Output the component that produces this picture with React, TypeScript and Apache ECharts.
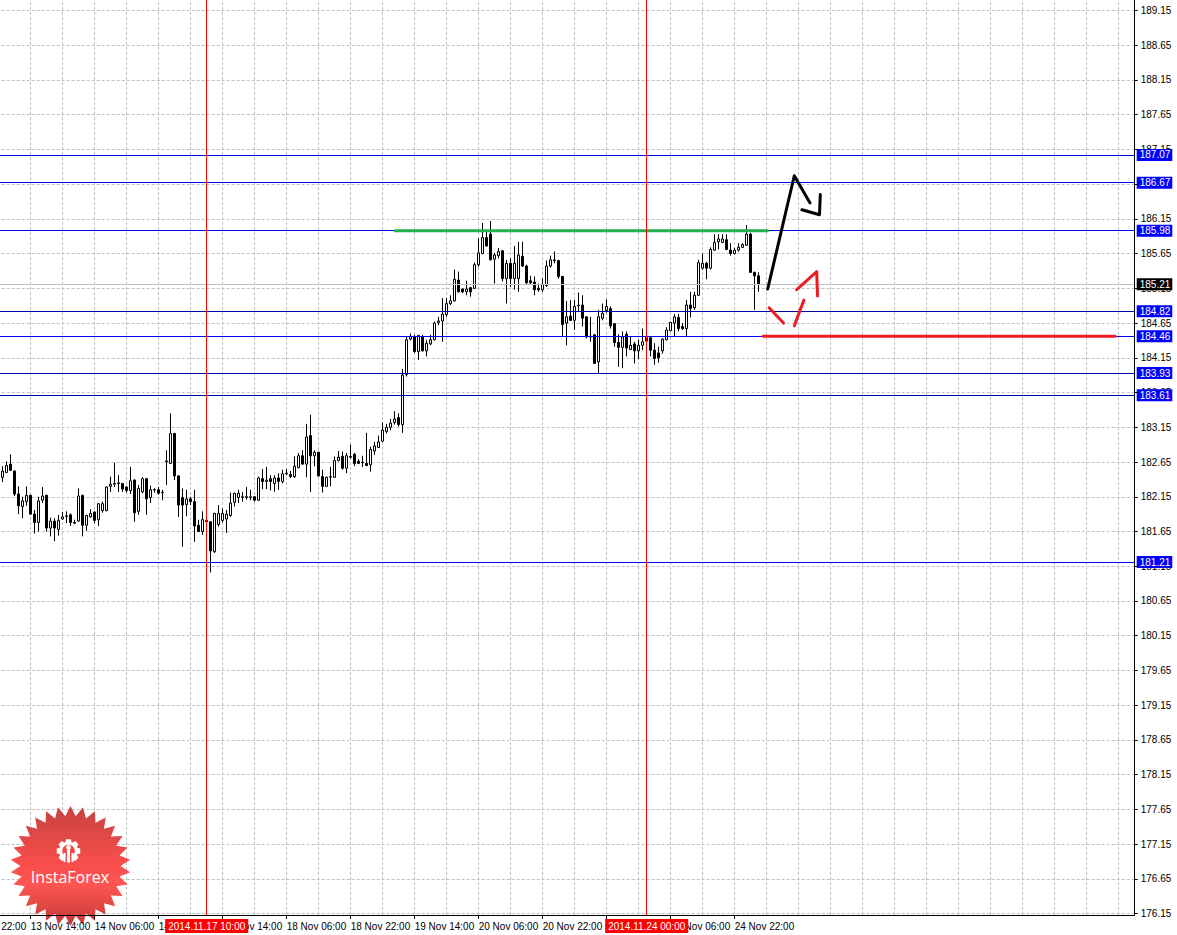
import React, { useEffect, useRef } from "react";
import * as echarts from "echarts";

// ---------- DATA ----------
// Hourly GBP/JPY candles, 13 Nov 2014 07:00 .. 25 Nov 2014 04:00  [open, high, low, close]
const CANDLES: number[][] = [
  [182.43, 182.59, 182.36, 182.52], [182.50, 182.66, 182.49, 182.60], [182.62, 182.76, 182.52, 182.53],
  [182.52, 182.53, 182.16, 182.19], [182.19, 182.30, 181.90, 182.02], [182.01, 182.15, 181.84, 182.09],
  [182.08, 182.30, 182.02, 182.17], [182.17, 182.18, 181.89, 181.90], [181.90, 181.96, 181.62, 181.78],
  [181.78, 182.15, 181.65, 182.09], [182.10, 182.29, 182.06, 182.16], [182.17, 182.18, 181.65, 181.70],
  [181.70, 181.85, 181.58, 181.80], [181.80, 181.84, 181.51, 181.70], [181.68, 181.89, 181.59, 181.81],
  [181.83, 181.93, 181.82, 181.86], [181.865, 181.94, 181.77, 181.875], [181.89, 181.91, 181.73, 181.78],
  [181.78, 181.82, 181.76, 181.77], [181.80, 182.27, 181.79, 182.16], [182.17, 182.18, 181.58, 181.74],
  [181.74, 181.89, 181.66, 181.88], [181.86, 181.97, 181.85, 181.91], [181.93, 181.94, 181.77, 181.81],
  [181.82, 182.06, 181.73, 182.05], [181.95, 182.08, 181.92, 182.05], [181.95, 182.30, 181.94, 182.29],
  [182.30, 182.44, 182.22, 182.33], [182.33, 182.64, 182.29, 182.34], [182.34, 182.46, 182.22, 182.35],
  [182.34, 182.35, 182.22, 182.26], [182.29, 182.30, 182.21, 182.24], [182.24, 182.58, 182.19, 182.38],
  [182.39, 182.40, 181.79, 181.92], [181.94, 182.32, 181.89, 182.27], [182.22, 182.43, 182.20, 182.41],
  [182.41, 182.42, 181.89, 182.12], [182.14, 182.31, 182.06, 182.25], [182.25, 182.27, 182.21, 182.255],
  [182.25, 182.29, 182.18, 182.20], [182.21, 182.25, 182.10, 182.215],
  // 17 Nov
  [182.655, 182.82, 182.32, 182.665], [182.63, 183.35, 182.62, 183.06], [183.06, 183.07, 182.39, 182.45],
  [182.45, 182.46, 181.86, 182.03], [182.14, 182.27, 181.43, 182.03], [182.04, 182.25, 181.87, 182.12],
  [182.12, 182.15, 182.03, 182.08], [182.08, 182.25, 181.50, 181.73], [181.74, 181.82, 181.64, 181.65],
  [181.65, 181.94, 181.60, 181.82], [181.81, 181.82, 181.78, 181.79], [181.79, 181.80, 181.06, 181.37],
  [181.36, 181.92, 181.34, 181.91], [181.75, 182.03, 181.72, 181.91], [181.81, 181.98, 181.78, 181.91],
  [181.83, 181.96, 181.63, 181.90], [181.88, 182.21, 181.86, 182.06], [182.07, 182.21, 182.01, 182.20],
  [182.14, 182.25, 182.06, 182.20], [182.14, 182.22, 182.08, 182.15], [182.15, 182.29, 182.11, 182.14],
  [182.14, 182.25, 182.10, 182.15], [182.15, 182.16, 182.08, 182.10], [182.10, 182.44, 182.09, 182.42],
  [182.41, 182.55, 182.26, 182.37], [182.37, 182.58, 182.26, 182.39], [182.41, 182.46, 182.24, 182.37],
  [182.34, 182.46, 182.22, 182.42], [182.42, 182.49, 182.25, 182.37], [182.37, 182.54, 182.34, 182.48],
  [182.48, 182.55, 182.46, 182.49], [182.47, 182.52, 182.42, 182.44], [182.44, 182.73, 182.42, 182.59],
  [182.57, 182.78, 182.56, 182.74], [182.74, 182.82, 182.61, 182.62], [182.62, 183.20, 182.43, 183.01],
  [183.03, 183.33, 182.22, 182.74], [182.74, 182.82, 182.59, 182.79], [182.79, 182.80, 182.44, 182.45],
  [182.44, 182.54, 182.21, 182.30], [182.30, 182.44, 182.29, 182.43], [182.43, 182.58, 182.30, 182.44],
  [182.43, 182.73, 182.42, 182.67], [182.67, 182.81, 182.66, 182.72], [182.73, 182.80, 182.54, 182.56],
  [182.56, 182.78, 182.49, 182.74], [182.73, 182.90, 182.70, 182.72], [182.76, 182.78, 182.59, 182.63],
  [182.66, 182.69, 182.62, 182.63], [182.64, 182.74, 182.58, 182.645], [182.63, 183.07, 182.59, 182.60],
  [182.61, 182.87, 182.51, 182.83], [182.81, 182.94, 182.75, 182.88], [182.86, 183.03, 182.85, 182.94],
  [182.95, 183.22, 182.94, 183.11], [183.09, 183.20, 183.06, 183.15], [183.15, 183.27, 183.11, 183.21],
  [183.22, 183.38, 183.19, 183.27], [183.29, 183.35, 183.16, 183.19], [183.19, 183.99, 183.07, 183.90],
  [183.91, 184.46, 183.88, 184.41], [184.42, 184.50, 184.40, 184.46], [184.45, 184.48, 184.22, 184.24],
  [184.24, 184.48, 184.12, 184.47], [184.45, 184.48, 184.24, 184.25], [184.25, 184.41, 184.17, 184.36],
  [184.35, 184.48, 184.33, 184.41], [184.41, 184.67, 184.40, 184.65], [184.66, 184.74, 184.62, 184.68],
  [184.68, 185.01, 184.38, 184.78], [184.77, 185.01, 184.74, 184.93], [184.93, 185.05, 184.91, 184.97],
  [184.97, 185.42, 184.96, 185.28], [185.27, 185.39, 185.09, 185.10], [185.14, 185.15, 185.08, 185.10],
  [185.10, 185.26, 185.05, 185.14], [185.16, 185.17, 185.03, 185.10], [185.15, 185.52, 185.14, 185.49],
  [185.49, 185.87, 185.46, 185.66], [185.65, 186.09, 185.64, 185.88], [185.88, 185.98, 185.75, 185.76],
  [185.93, 186.12, 185.55, 185.56], [185.57, 185.66, 185.22, 185.63], [185.62, 185.73, 185.58, 185.68],
  [185.69, 185.70, 185.25, 185.29], [185.29, 185.56, 184.93, 185.51], [185.51, 185.58, 185.17, 185.29],
  [185.29, 185.76, 185.13, 185.51], [185.29, 185.82, 185.10, 185.63], [185.61, 185.82, 185.46, 185.47],
  [185.47, 185.49, 185.21, 185.23], [185.26, 185.33, 185.21, 185.23], [185.24, 185.32, 185.05, 185.13],
  [185.15, 185.22, 185.10, 185.13], [185.13, 185.29, 185.10, 185.21], [185.19, 185.55, 185.17, 185.47],
  [185.47, 185.62, 185.45, 185.56], [185.55, 185.68, 185.51, 185.56], [185.55, 185.56, 185.29, 185.32],
  [185.32, 185.33, 184.45, 184.63], [184.65, 184.97, 184.33, 184.74], [184.75, 184.98, 184.68, 184.69],
  [184.69, 184.98, 184.55, 184.89], [184.90, 185.09, 184.81, 184.91], [184.91, 185.05, 184.60, 184.72],
  [184.74, 184.75, 184.43, 184.45], [184.45, 184.74, 184.38, 184.46], [184.48, 184.49, 184.06, 184.07],
  [184.09, 184.84, 183.93, 184.74], [184.72, 184.93, 184.69, 184.79], [184.83, 184.99, 184.80, 184.89],
  [184.86, 184.89, 184.57, 184.61], [184.64, 184.65, 184.31, 184.37], [184.37, 184.49, 184.02, 184.30],
  [184.30, 184.53, 184.00, 184.45], [184.49, 184.53, 184.17, 184.29], [184.27, 184.45, 184.26, 184.33],
  [184.35, 184.38, 184.07, 184.25], [184.25, 184.41, 184.13, 184.33], [184.33, 184.57, 184.26, 184.38],
  [184.39, 184.62, 184.26, 184.44], [184.44, 184.46, 184.17, 184.26], [184.26, 184.36, 184.05, 184.14],
  [184.22, 184.31, 184.08, 184.15], [184.25, 184.43, 184.21, 184.42], [184.41, 184.59, 184.40, 184.55],
  [184.54, 184.67, 184.53, 184.66], [184.65, 184.78, 184.46, 184.74], [184.73, 184.78, 184.53, 184.57],
  [184.60, 184.65, 184.55, 184.57], [184.57, 184.98, 184.46, 184.91], [184.91, 185.10, 184.73, 184.86],
  [184.87, 185.10, 184.84, 185.05], [185.05, 185.56, 185.04, 185.52], [185.44, 185.65, 185.42, 185.51],
  [185.51, 185.53, 185.28, 185.44], [185.44, 185.74, 185.42, 185.71], [185.70, 185.93, 185.69, 185.81],
  [185.82, 185.93, 185.71, 185.86], [185.81, 185.93, 185.80, 185.86], [185.85, 185.93, 185.70, 185.71],
  [185.70, 185.80, 185.62, 185.65], [185.65, 185.73, 185.64, 185.70], [185.70, 185.80, 185.68, 185.74],
  [185.74, 185.80, 185.73, 185.78], [185.77, 186.06, 185.76, 185.93], [185.93, 185.95, 185.37, 185.38],
  [185.38, 185.39, 184.84, 185.33], [185.33, 185.38, 185.10, 185.21],
];

// price axis tick labels
const Y_TICKS = [
  176.15, 176.65, 177.15, 177.65, 178.15, 178.65, 179.15, 179.65, 180.15, 180.65, 181.15, 181.65, 182.15,
  182.65, 183.15, 183.65, 184.15, 184.65, 185.15, 185.65, 186.15, 186.65, 187.15, 187.65, 188.15, 188.65, 189.15,
];
const Y_MIN = 176.13;
const Y_MAX = 189.3;

// horizontal support / resistance levels
const LEVELS = [187.07, 186.67, 185.98, 184.82, 184.46, 183.93, 183.61, 181.21];
const DARK_LEVELS = [184.82, 183.93, 183.61];
const CURRENT_PRICE = 185.21;

// vertical marker lines (time)
const VLINES = ["2014.11.17 10:00", "2014.11.24 00:00"];

// time axis: hourly trading slots (weekends skipped)
const FIRST_SLOT_UTC = Date.UTC(2014, 10, 12, 22); // 12 Nov 2014 22:00
const LEAD_SLOTS = 9; // empty slots before the first candle
const FUTURE_SLOTS = 94; // empty slots after the last candle
const MONTHS = ["Jan", "Feb", "Mar", "Apr", "May", "Jun", "Jul", "Aug", "Sep", "Oct", "Nov", "Dec"];

// drawn annotations: [bar index, price]
const GREEN_LINE = [[98.1, 185.98], [191.2, 185.98]];
const RED_LINE = [[190.1, 184.46], [278.1, 184.46]];
const BLACK_ARROW = [[191.25, 185.14], [197.9, 186.77], [201.8, 186.38]];
const BLACK_ARROW_HEAD = [[199.8, 186.28], [204.2, 186.21], [204.4, 186.5]];
const RED_MARK_1 = [[191.6, 184.87], [195.2, 184.65]];
const RED_MARK_2 = [[197.9, 184.61], [200.3, 184.98]];
const RED_MARK_3 = [[198.5, 185.13], [203.5, 185.39], [203.7, 185.04]];

// ---------- HELPERS ----------
const pad = (n: number) => (n < 10 ? "0" + n : "" + n);

function buildCategories(): string[] {
  const total = LEAD_SLOTS + CANDLES.length + FUTURE_SLOTS;
  const out: string[] = [];
  let t = FIRST_SLOT_UTC;
  while (out.length < total) {
    const d = new Date(t);
    const dow = d.getUTCDay();
    if (dow !== 0 && dow !== 6) {
      out.push(
        `${d.getUTCFullYear()}.${pad(d.getUTCMonth() + 1)}.${pad(d.getUTCDate())} ${pad(d.getUTCHours())}:00`
      );
    }
    t += 3600000;
  }
  return out;
}

function shortLabel(name: string): string {
  const [date, time] = name.split(" ");
  const [, m, d] = date.split(".");
  return `${parseInt(d, 10)} ${MONTHS[parseInt(m, 10) - 1]} ${time}`;
}

function starPoints(cx: number, cy: number, R: number, r: number, n: number) {
  const pts: number[][] = [];
  for (let i = 0; i < 2 * n; i++) {
    const a = -Math.PI / 2 + (i * Math.PI) / n;
    const rr = i % 2 === 0 ? R : r;
    pts.push([cx + rr * Math.cos(a), cy + rr * Math.sin(a)]);
  }
  return pts;
}

function gearPoints(cx: number, cy: number, R: number, r: number, n: number) {
  const pts: number[][] = [];
  for (let j = 0; j < n; j++) {
    const a = (j * 2 * Math.PI) / n;
    const add = (rad: number, ang: number) => pts.push([cx + rad * Math.cos(ang), cy + rad * Math.sin(ang)]);
    add(r, a - 0.32);
    add(R, a - 0.2);
    add(R, a + 0.2);
    add(r, a + 0.32);
  }
  return pts;
}

const FONT = "'Liberation Sans', Arial, sans-serif";
const GRID_COLOR = "#c0c0c0";
const DASH = [3, 2];
const BLUE = "#0000f0";
const NAVY = "#0000a8";

function buildOption() {
  const cats = buildCategories();
  const lastLabelled = LEAD_SLOTS + CANDLES.length - 1;
  const candleData = CANDLES.map(([o, h, l, c], k) => [k + LEAD_SLOTS, o, c, l, h]);
  const xMin = -LEAD_SLOTS;
  const xMax = cats.length - 1 - LEAD_SLOTS;

  const hGrid = Y_TICKS.map((v) => ({
    yAxis: v,
    lineStyle: { color: GRID_COLOR, type: DASH, width: 1 },
    label: {
      show: true,
      position: "end",
      distance: 6,
      formatter: v.toFixed(2),
      color: "#000",
      fontSize: 10,
      fontFamily: FONT,
    },
  }));

  const vGrid: any[] = [];
  for (let i = 0; i < cats.length; i += 8) {
    vGrid.push({
      xAxis: i - LEAD_SLOTS,
      lineStyle: { color: GRID_COLOR, type: DASH, width: 1 },
      label: { show: false },
    });
  }

  const levelLines: any[] = LEVELS.map((v) => {
    const col = DARK_LEVELS.indexOf(v) >= 0 ? NAVY : BLUE;
    return {
      yAxis: v,
      lineStyle: { color: col, type: "solid", width: 1 },
      label: {
        show: true,
        position: "end",
        distance: 2,
        formatter: v.toFixed(2),
        color: "#fff",
        backgroundColor: "#0000ff",
        padding: [1, 2, 0, 3],
        lineHeight: 11,
        fontSize: 10,
        fontFamily: FONT,
      },
    };
  });
  levelLines.push({
    yAxis: CURRENT_PRICE,
    lineStyle: { color: GRID_COLOR, type: "solid", width: 1 },
    label: {
      show: true,
      position: "end",
      distance: 2,
      formatter: CURRENT_PRICE.toFixed(2),
      color: "#fff",
      backgroundColor: "#000",
      padding: [1, 2, 0, 3],
      lineHeight: 11,
      fontSize: 10,
      fontFamily: FONT,
    },
  });

  const vLines = VLINES.map((name) => ({
    xAxis: cats.indexOf(name) - LEAD_SLOTS,
    name,
    lineStyle: { color: "#ff0000", type: "solid", width: 1 },
    label: {
      show: true,
      position: "start",
      distance: 4,
      formatter: name,
      color: "#fff",
      backgroundColor: "#ff0000",
      padding: [1, 3, 1, 3],
      lineHeight: 12,
      fontSize: 10,
      fontFamily: FONT,
    },
  }));

  const annot = (data: number[][], color: string, z: number, markLine?: any) => ({
    type: "line",
    xAxisIndex: 1,
    yAxisIndex: 0,
    data,
    symbol: "none",
    silent: true,
    z,
    lineStyle: { color, width: 3, cap: "round", join: "round" },
    markLine,
  });

  const mk = (data: any[], z: number) => ({
    silent: true,
    symbol: ["none", "none"],
    animation: false,
    z,
    data,
  });

  const starCx = 70.5;
  const starCy = 866;

  return {
    animation: false,
    backgroundColor: "#ffffff",
    textStyle: { fontFamily: FONT },
    grid: { left: -33.3, right: 42.3, top: 0, bottom: 20, containLabel: false, outerBoundsMode: "none" },
    xAxis: [
      {
        type: "category",
        data: cats,
        boundaryGap: false,
        z: 10,
        axisLine: { show: true, onZero: false, lineStyle: { color: "#000", width: 1 } },
        axisTick: {
          show: true,
          length: 4,
          interval: (i: number) => i % 16 === 0 && i <= lastLabelled,
          lineStyle: { color: "#000" },
        },
        axisLabel: {
          show: true,
          interval: (i: number) => i % 16 === 0 && i <= lastLabelled,
          formatter: (v: string) => shortLabel(v),
          align: "left",
          margin: 6,
          color: "#000",
          fontSize: 10,
          fontFamily: FONT,
        },
        splitLine: { show: false },
      },
      {
        type: "value",
        min: xMin,
        max: xMax,
        show: false,
        axisLine: { show: false, onZero: false },
      },
    ],
    yAxis: [
      {
        type: "value",
        position: "right",
        min: Y_MIN,
        max: Y_MAX,
        scale: true,
        z: 10,
        axisLine: { show: true, onZero: false, lineStyle: { color: "#000", width: 1 } },
        axisTick: { show: true, customValues: Y_TICKS, length: 3, lineStyle: { color: "#000" } },
        axisLabel: { show: false },
        splitLine: { show: false },
      },
    ],
    graphic: [
      {
        type: "polygon",
        z: 5,
        silent: true,
        shape: { points: starPoints(starCx, starCy, 60, 50, 30) },
        style: {
          fill: {
            type: "linear",
            x: 0,
            y: 0,
            x2: 0,
            y2: 1,
            colorStops: [
              { offset: 0, color: "#c4433f" },
              { offset: 0.45, color: "#f64d4b" },
              { offset: 0.65, color: "#ff5652" },
              { offset: 1, color: "#c23a37" },
            ],
          },
        },
      },
      {
        type: "polygon",
        z: 6,
        silent: true,
        shape: { points: gearPoints(68.5, 851, 12, 9.5, 8) },
        style: { fill: "#ffffff" },
      },
      {
        type: "circle",
        z: 6,
        silent: true,
        shape: { cx: 68.5, cy: 851, r: 6.3 },
        style: { fill: "#f24d4b" },
      },
      {
        type: "rect",
        z: 6,
        silent: true,
        shape: { x: 64.5, y: 857, width: 8, height: 7 },
        style: { fill: "#f44f4c" },
      },
      {
        type: "circle",
        z: 7,
        silent: true,
        shape: { cx: 68.5, cy: 847.5, r: 2.4 },
        style: { fill: "#ffffff" },
      },
      {
        type: "rect",
        z: 7,
        silent: true,
        shape: { x: 67, y: 849.5, width: 3, height: 13 },
        style: { fill: "#ffffff" },
      },
      {
        type: "rect",
        z: 7,
        silent: true,
        shape: { x: 63.5, y: 853, width: 2, height: 9 },
        style: { fill: "#ffffff" },
      },
      {
        type: "rect",
        z: 7,
        silent: true,
        shape: { x: 71.5, y: 853, width: 2, height: 9 },
        style: { fill: "#ffffff" },
      },
      {
        type: "text",
        z: 7,
        silent: true,
        x: 70,
        y: 877,
        style: {
          text: "InstaForex",
          fill: "#ffffff",
          font: "16px 'Open Sans', 'DejaVu Sans', sans-serif",
          align: "center",
          verticalAlign: "middle",
        },
      },
    ],
    series: [
      {
        type: "candlestick",
        name: "GBPJPY,H1",
        xAxisIndex: 0,
        yAxisIndex: 0,
        data: candleData,
        encode: { x: 0, y: [1, 2, 3, 4] },
        barWidth: 2,
        silent: true,
        z: 3,
        itemStyle: {
          color: "#ffffff",
          color0: "#000000",
          borderColor: "#000000",
          borderColor0: "#000000",
          borderWidth: 1,
        },
      },
      annot(GREEN_LINE, "#22b14c", 8, mk(hGrid, 1)),
      annot(RED_LINE, "#ed1c24", 8, mk(vGrid, 1)),
      annot(BLACK_ARROW, "#000000", 8, mk(levelLines, 7)),
      annot(BLACK_ARROW_HEAD, "#000000", 8, mk(vLines, 11)),
      annot(RED_MARK_1, "#ed1c24", 8),
      annot(RED_MARK_2, "#ed1c24", 8),
      annot(RED_MARK_3, "#ed1c24", 8),
    ],
  };
}

export default function App() {
  const ref = useRef<HTMLDivElement>(null);
  useEffect(() => {
    if (!ref.current) return;
    const chart = echarts.init(ref.current, null, { renderer: "svg" });
    chart.setOption(buildOption() as any);
    return () => chart.dispose();
  }, []);
  return (
    <div
      ref={ref}
      style={{ position: "fixed", left: 0, top: 0, width: 1177, height: 935, background: "#ffffff" }}
    />
  );
}
